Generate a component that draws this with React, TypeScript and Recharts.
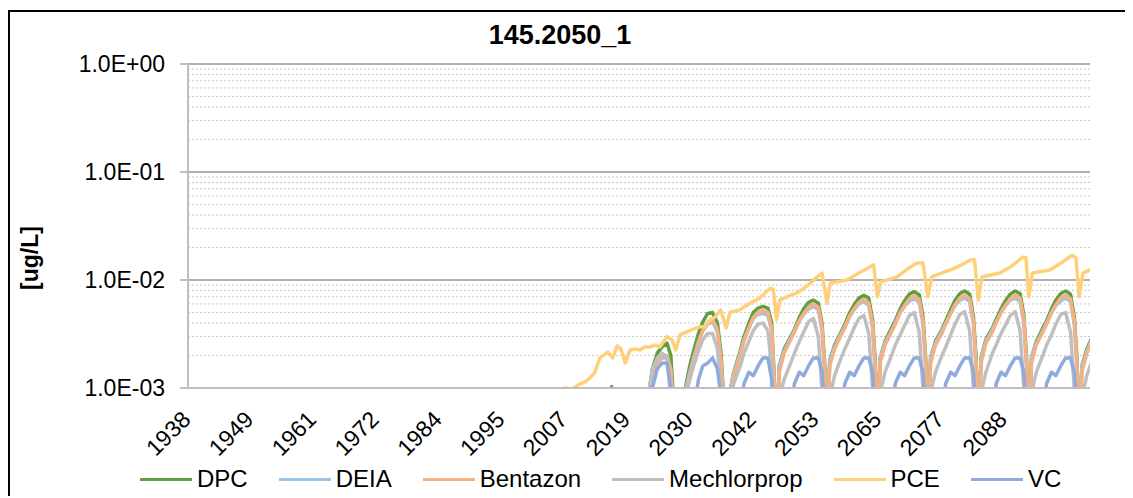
import { LineChart, Line, XAxis, YAxis, CartesianGrid } from "recharts";

const FONT = "'Liberation Sans', Arial, sans-serif";

// start year of each seasonal cycle (the PCE drop), and sample offsets inside a cycle
const cycleStarts = [2009.4, 2018.7, 2028.0, 2037.3, 2046.6, 2055.9, 2065.2, 2074.5, 2083.8, 2093.1, 2102.4];
const cycleSteps = [0, 0.5, 1.4, 2.6, 3.3, 4.2, 5.0, 5.9, 6.8, 7.7, 8.4, 8.9];

// values in ug/L, one row per cycle (last row is the partial cycle at the right edge)
const dpc = [
  0.0002, 0.0002, 0.0002, 0.0003, 0.0003, 0.0004, 0.0005, 0.0008, 0.00103, 0.0008, 0.0004, 0.0002,
  0.0002, 0.0002, 0.0003, 0.0004, 0.0005, 0.0008, 0.0015, 0.0021, 0.0024, 0.0026, 0.002, 0.0008,
  0.0002, 0.0003, 0.0008, 0.0016, 0.0022, 0.0032, 0.0041, 0.0049, 0.005, 0.004, 0.002, 0.0007,
  0.0002, 0.0008, 0.0014, 0.0022, 0.003, 0.004, 0.005, 0.0055, 0.0057, 0.0055, 0.004, 0.0012,
  0.0003, 0.0016, 0.0023, 0.003, 0.0035, 0.0045, 0.0054, 0.0062, 0.0065, 0.0061, 0.0039, 0.0016,
  0.0003, 0.0018, 0.0025, 0.0033, 0.0039, 0.005, 0.0059, 0.0068, 0.0072, 0.0068, 0.0043, 0.0018,
  0.0003, 0.0019, 0.0027, 0.0036, 0.0042, 0.0054, 0.0064, 0.0074, 0.0078, 0.0073, 0.0046, 0.0019,
  0.0003, 0.0019, 0.0027, 0.0035, 0.0042, 0.0053, 0.0065, 0.0075, 0.0079, 0.0074, 0.0046, 0.0019,
  0.0003, 0.0019, 0.0028, 0.0036, 0.0043, 0.0054, 0.0064, 0.0074, 0.0079, 0.0075, 0.0047, 0.0019,
  0.0003, 0.0019, 0.0027, 0.0036, 0.0042, 0.0054, 0.0065, 0.0075, 0.0079, 0.0074, 0.0046, 0.0019,
  0.0003, 0.0016, 0.0023, 0.0031,
];

const deia = [
  0.0002, 0.0002, 0.0002, 0.0002, 0.0002, 0.0002, 0.0002, 0.0002, 0.0002, 0.0002, 0.0002, 0.0002,
  0.0002, 0.0002, 0.0003, 0.0004, 0.0005, 0.0007, 0.0012, 0.0017, 0.0019, 0.0019, 0.0014, 0.0006,
  0.0002, 0.0003, 0.0008, 0.0014, 0.0019, 0.0027, 0.0034, 0.0039, 0.0041, 0.0033, 0.0016, 0.0006,
  0.0002, 0.0008, 0.0014, 0.0021, 0.0028, 0.0036, 0.0044, 0.0048, 0.0049, 0.0047, 0.0034, 0.001,
  0.0003, 0.0016, 0.0022, 0.0029, 0.0034, 0.0042, 0.0048, 0.0054, 0.0057, 0.0053, 0.0033, 0.0013,
  0.0003, 0.0018, 0.0024, 0.0032, 0.0037, 0.0046, 0.0053, 0.006, 0.0063, 0.0058, 0.0036, 0.0014,
  0.0003, 0.0019, 0.0026, 0.0034, 0.004, 0.005, 0.0057, 0.0064, 0.0067, 0.0062, 0.0039, 0.0015,
  0.0003, 0.0019, 0.0026, 0.0034, 0.004, 0.0049, 0.0058, 0.0065, 0.0068, 0.0063, 0.0039, 0.0015,
  0.0003, 0.0019, 0.0027, 0.0035, 0.0041, 0.005, 0.0058, 0.0065, 0.0068, 0.0063, 0.004, 0.0015,
  0.0003, 0.0019, 0.0026, 0.0034, 0.004, 0.005, 0.0058, 0.0064, 0.0068, 0.0063, 0.0039, 0.0015,
  0.0003, 0.0016, 0.0022, 0.003,
];

const bentazon = [
  0.0002, 0.0002, 0.0002, 0.0002, 0.0002, 0.0002, 0.0002, 0.0002, 0.0002, 0.0002, 0.0002, 0.0002,
  0.0002, 0.0002, 0.0003, 0.0004, 0.0005, 0.0007, 0.0012, 0.0017, 0.002, 0.002, 0.0015, 0.0006,
  0.0002, 0.0003, 0.0007, 0.0013, 0.0018, 0.0026, 0.0034, 0.004, 0.0043, 0.0035, 0.0017, 0.0006,
  0.0002, 0.0007, 0.0013, 0.002, 0.0027, 0.0036, 0.0045, 0.005, 0.0052, 0.005, 0.0036, 0.0011,
  0.0003, 0.0014, 0.0021, 0.0028, 0.0033, 0.0042, 0.0049, 0.0056, 0.006, 0.0056, 0.0036, 0.0014,
  0.0003, 0.0016, 0.0023, 0.0031, 0.0036, 0.0047, 0.0054, 0.0062, 0.0066, 0.0061, 0.0039, 0.0016,
  0.0003, 0.0017, 0.0025, 0.0033, 0.0039, 0.005, 0.0058, 0.0067, 0.0071, 0.0066, 0.0042, 0.0017,
  0.0003, 0.0017, 0.0025, 0.0032, 0.0039, 0.0049, 0.0059, 0.0068, 0.0072, 0.0067, 0.0042, 0.0017,
  0.0003, 0.0017, 0.0026, 0.0033, 0.004, 0.005, 0.0058, 0.0067, 0.0072, 0.0068, 0.0043, 0.0017,
  0.0003, 0.0017, 0.0025, 0.0033, 0.0039, 0.005, 0.0059, 0.0068, 0.0072, 0.0067, 0.0042, 0.0017,
  0.0003, 0.0014, 0.0021, 0.0029,
];

const mechlorprop = [
  0.0002, 0.0002, 0.0002, 0.0002, 0.0002, 0.0002, 0.0002, 0.0002, 0.0002, 0.0002, 0.0002, 0.0002,
  0.0002, 0.0002, 0.0003, 0.0004, 0.0005, 0.0008, 0.0015, 0.0019, 0.0021, 0.0019, 0.0008, 0.0004,
  0.0002, 0.0003, 0.0007, 0.0012, 0.0016, 0.0022, 0.0028, 0.0032, 0.0032, 0.0023, 0.0009, 0.0004,
  0.0002, 0.0006, 0.0011, 0.0016, 0.0021, 0.0027, 0.0034, 0.0039, 0.004, 0.0034, 0.0015, 0.0005,
  0.0003, 0.0008, 0.0012, 0.0017, 0.0021, 0.0027, 0.0033, 0.0041, 0.0044, 0.003, 0.0009, 0.0004,
  0.0003, 0.0008, 0.0013, 0.0019, 0.0023, 0.0029, 0.0036, 0.0044, 0.0047, 0.0032, 0.001, 0.0004,
  0.0003, 0.0009, 0.0014, 0.002, 0.0025, 0.0031, 0.0038, 0.0047, 0.005, 0.0033, 0.001, 0.0004,
  0.0003, 0.0009, 0.0014, 0.002, 0.0024, 0.0031, 0.0039, 0.0048, 0.0051, 0.0034, 0.001, 0.0004,
  0.0003, 0.0009, 0.0014, 0.0021, 0.0025, 0.0032, 0.0038, 0.0047, 0.0051, 0.0034, 0.001, 0.0004,
  0.0003, 0.0009, 0.0014, 0.002, 0.0025, 0.0031, 0.0039, 0.0048, 0.005, 0.0033, 0.001, 0.0004,
  0.0003, 0.0008, 0.0013, 0.0019,
];

const vc = [
  0.0002, 0.0002, 0.0002, 0.0002, 0.0002, 0.0002, 0.0002, 0.0002, 0.0002, 0.0002, 0.0002, 0.0002,
  0.0002, 0.0002, 0.0002, 0.0003, 0.0004, 0.0006, 0.001, 0.0015, 0.0017, 0.0017, 0.001, 0.0004,
  0.0002, 0.0002, 0.0003, 0.0004, 0.0006, 0.0012, 0.0016, 0.0017, 0.0019, 0.0015, 0.0008, 0.0003,
  0.0002, 0.0002, 0.0003, 0.0006, 0.0011, 0.0014, 0.0013, 0.0016, 0.0019, 0.0019, 0.0012, 0.0004,
  0.0002, 0.0002, 0.0003, 0.0006, 0.0011, 0.0014, 0.0013, 0.0016, 0.0019, 0.0019, 0.0014, 0.0006,
  0.0002, 0.0002, 0.0003, 0.0006, 0.0011, 0.0014, 0.0013, 0.0016, 0.0019, 0.0019, 0.0014, 0.0006,
  0.0002, 0.0002, 0.0003, 0.0006, 0.0011, 0.0014, 0.0013, 0.0016, 0.0019, 0.0019, 0.0014, 0.0006,
  0.0002, 0.0002, 0.0003, 0.0006, 0.0011, 0.0014, 0.0013, 0.0016, 0.0019, 0.0019, 0.0014, 0.0006,
  0.0002, 0.0002, 0.0003, 0.0006, 0.0011, 0.0014, 0.0013, 0.0016, 0.0019, 0.0019, 0.0014, 0.0006,
  0.0002, 0.0002, 0.0003, 0.0006, 0.0011, 0.0014, 0.0013, 0.0016, 0.0019, 0.0019, 0.0014, 0.0006,
  0.0002, 0.0002, 0.0003, 0.0005,
];

const pceYears = [
  2003.0, 2004.8, 2006.1, 2007.6, 2008.9, 2010.0, 2011.3, 2012.2, 2013.1, 2014.0, 2015.5, 2016.4, 2017.2, 2017.9,
  2018.7, 2019.6, 2020.5, 2021.4, 2022.3, 2023.3, 2024.2, 2025.1, 2026.4, 2027.3,
  2028.0, 2028.8, 2030.6, 2032.5, 2033.4, 2034.3, 2035.2, 2036.3,
  2037.3, 2038.0, 2039.8, 2041.7, 2043.5, 2045.4, 2046.0,
  2046.6, 2047.2, 2049.1, 2050.4, 2052.2, 2054.1, 2055.0,
  2055.9, 2056.5, 2059.6, 2062.0, 2063.8, 2064.5,
  2065.2, 2065.8, 2068.8, 2070.6, 2072.5, 2073.6,
  2074.5, 2075.2, 2078.6, 2080.4, 2082.3, 2083.1,
  2083.8, 2084.5, 2087.8, 2090.0, 2092.0, 2092.6,
  2093.1, 2093.8, 2097.0, 2099.2, 2101.1, 2101.8,
  2102.4, 2103.1, 2104.4, 2105.0,
];
const pceValues = [
  0.0005, 0.0008, 0.00096, 0.001, 0.00098, 0.00107, 0.00114, 0.00124, 0.00139, 0.0019, 0.00215, 0.0019, 0.00245, 0.0023,
  0.0017, 0.00225, 0.0023, 0.00225, 0.0024, 0.0024, 0.0025, 0.0024, 0.003, 0.0028,
  0.00225, 0.0031, 0.0034, 0.0037, 0.0037, 0.0043, 0.0045, 0.0053,
  0.0036, 0.005, 0.0053, 0.0061, 0.0068, 0.0084, 0.0082,
  0.0043, 0.0065, 0.0072, 0.0076, 0.0088, 0.0107, 0.0116,
  0.0061, 0.0094, 0.01, 0.0118, 0.0132, 0.0138,
  0.007, 0.0096, 0.0107, 0.0125, 0.0144, 0.0144,
  0.007, 0.0107, 0.0124, 0.0135, 0.0153, 0.0155,
  0.0065, 0.0107, 0.0116, 0.0135, 0.0163, 0.016,
  0.007, 0.0116, 0.0124, 0.0145, 0.017, 0.016,
  0.007, 0.0116, 0.0124, 0.0126,
];

const xTicks = [1938.07, 1949.65, 1961.23, 1972.81, 1984.39, 1995.97, 2007.55, 2019.13, 2030.71, 2042.29, 2053.87, 2065.45, 2077.03, 2088.61];
const xTickLabels = ["1938", "1949", "1961", "1972", "1984", "1995", "2007", "2019", "2030", "2042", "2053", "2065", "2077", "2088"];
const yTicks = [0.001, 0.01, 0.1, 1];
const yTickLabels = ["1.0E-03", "1.0E-02", "1.0E-01", "1.0E+00"];
const minorSteps = [2, 3, 4, 5, 6, 7, 8, 9];

const humpYears = cycleStarts.flatMap((start, i) =>
  cycleSteps
    .slice(0, i === cycleStarts.length - 1 ? 4 : cycleSteps.length)
    .map((s) => Math.round((start + s) * 100) / 100)
);
const minorTicks = yTicks.slice(0, -1).flatMap((d) => minorSteps.map((m) => d * m));

const toPoints = (years: number[], values: number[]) =>
  years.map((year, i) => ({ year, v: values[i] }));

const series = [
  { name: "DPC", color: "#5f9f41", points: toPoints(humpYears, dpc) },
  { name: "DEIA", color: "#9dc3e6", points: toPoints(humpYears, deia) },
  { name: "Bentazon", color: "#f4b183", points: toPoints(humpYears, bentazon) },
  { name: "Mechlorprop", color: "#bfbfbf", points: toPoints(humpYears, mechlorprop) },
  { name: "PCE", color: "#ffd07a", points: toPoints(pceYears, pceValues) },
  { name: "VC", color: "#8faadc", points: toPoints(humpYears, vc) },
];

function XTick(props: any) {
  const { x, y, payload } = props;
  const label = xTickLabels[xTicks.indexOf(payload.value)];
  const ax = x + 4;
  const ay = y + 33;
  return (
    <text
      x={ax}
      y={ay}
      textAnchor="end"
      transform={`rotate(-45 ${ax} ${ay})`}
      fontSize={23}
      fontFamily={FONT}
      fill="#000"
    >
      {label}
    </text>
  );
}

export default function App() {
  return (
    <div
      style={{
        position: "relative",
        top: 2,
        width: 1123,
        height: 486,
        borderTop: "2px solid #000",
        borderLeft: "2px solid #000",
        background: "#fff",
        fontFamily: FONT,
      }}
    >
      <style>{"html,body{overflow:hidden}"}</style>
      <div
        style={{
          position: "absolute",
          left: 550,
          top: 10,
          transform: "translateX(-50%)",
          fontSize: 27,
          lineHeight: "27px",
          fontWeight: "bold",
          whiteSpace: "nowrap",
        }}
      >
        145.2050_1
      </div>
      <div
        style={{
          position: "absolute",
          left: 20,
          top: 246,
          transform: "translate(-50%, -50%) rotate(-90deg)",
          fontSize: 23,
          lineHeight: "24px",
          fontWeight: "bold",
          whiteSpace: "nowrap",
        }}
      >
        [ug/L]
      </div>

      <LineChart width={1123} height={486} margin={{ top: 52, right: 43, bottom: 0, left: 0 }}>
        <CartesianGrid yAxisId="minor" vertical={false} stroke="#c8c8c8" strokeDasharray="2 2" />
        <CartesianGrid yAxisId="major" vertical={false} stroke="#b0b0b0" strokeWidth={2} />
        <XAxis
          type="number"
          dataKey="year"
          domain={[1938.07, 2104.4]}
          allowDataOverflow
          ticks={xTicks}
          interval={0}
          tick={(p: any) => <XTick {...p} />}
          tickLine={false}
          tickSize={0}
          tickMargin={0}
          height={110}
          axisLine={{ stroke: "#bfbfbf", strokeWidth: 2 }}
        />
        <YAxis
          yAxisId="minor"
          hide
          scale="log"
          domain={[0.001, 1]}
          allowDataOverflow
          ticks={minorTicks}
          interval={0}
        />
        <YAxis
          yAxisId="major"
          scale="log"
          domain={[0.001, 1]}
          allowDataOverflow
          ticks={yTicks}
          interval={0}
          width={178}
          tickSize={8}
          tickMargin={15}
          tickLine={{ stroke: "#bfbfbf", strokeWidth: 2 }}
          axisLine={{ stroke: "#bfbfbf", strokeWidth: 2 }}
          tick={{ fill: "#000", fontSize: 23, fontFamily: FONT }}
          tickFormatter={(v: number) => yTickLabels[yTicks.indexOf(v)]}
        />
        {series.map((s) => (
          <Line
            key={s.name}
            yAxisId="major"
            data={s.points}
            dataKey="v"
            name={s.name}
            type="linear"
            stroke={s.color}
            strokeWidth={3.5}
            strokeLinejoin="round"
            dot={false}
            activeDot={false}
            isAnimationActive={false}
          />
        ))}
      </LineChart>

      <div
        style={{
          position: "absolute",
          left: 130,
          top: 455,
          display: "flex",
          alignItems: "center",
          gap: 31,
          fontSize: 24,
          lineHeight: "24px",
          whiteSpace: "nowrap",
        }}
      >
        {series.map((s) => (
          <div key={s.name} style={{ display: "flex", alignItems: "center" }}>
            <span style={{ display: "inline-block", width: 52, height: 3, background: s.color, marginRight: 5 }} />
            <span>{s.name}</span>
          </div>
        ))}
      </div>
    </div>
  );
}
